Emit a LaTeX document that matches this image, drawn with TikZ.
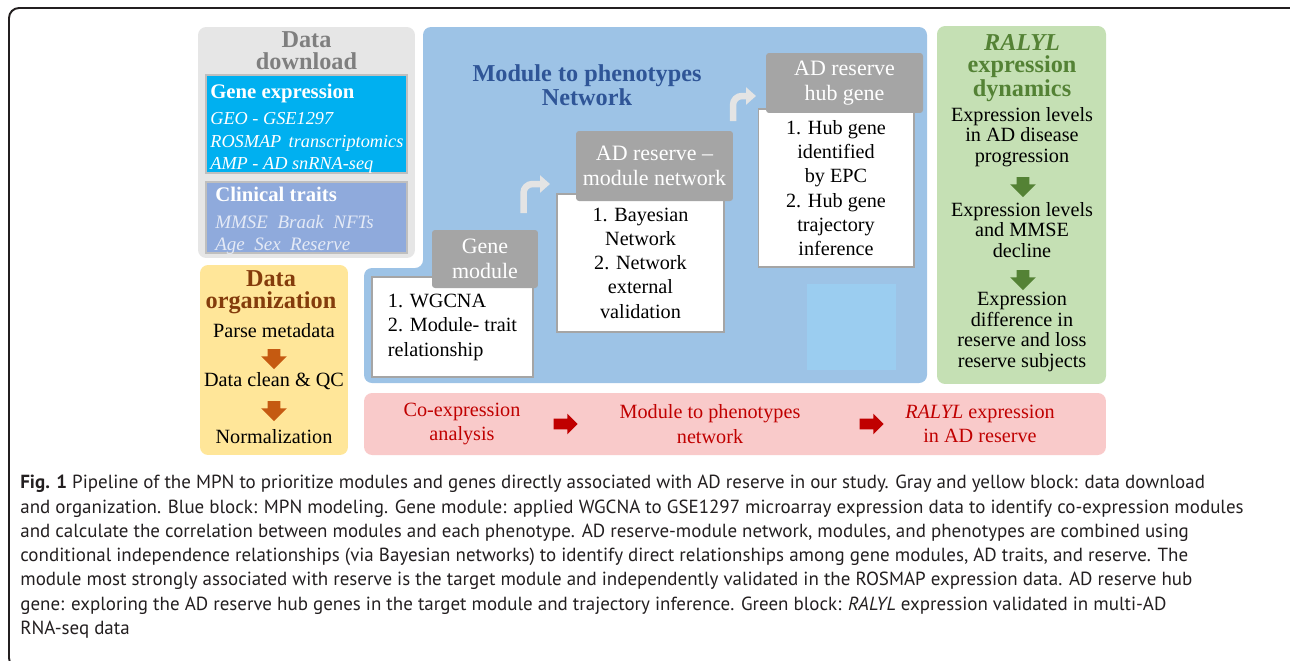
\documentclass[tikz,border=0pt]{standalone}
\usepackage{fontspec}
\setmainfont{Liberation Serif}
\newfontfamily\capfont{PT Sans}
\usetikzlibrary{shapes.arrows, arrows.meta}
\definecolor{dlgray}{HTML}{E6E6E6}
\definecolor{ttlgray}{HTML}{7F7F7F}
\definecolor{cyanbox}{HTML}{00B0F0}
\definecolor{clinbox}{HTML}{8FAADC}
\definecolor{clintxt}{HTML}{E4EAF6}
\definecolor{boxedge}{HTML}{BFBFBF}
\definecolor{orgyellow}{HTML}{FFE699}
\definecolor{orgbrown}{HTML}{843C0C}
\definecolor{orgarrow}{HTML}{C55A11}
\definecolor{mpnblue}{HTML}{9DC3E6}
\definecolor{mpntitle}{HTML}{2F5597}
\definecolor{headgray}{HTML}{A5A5A5}
\definecolor{sqblue}{HTML}{9BCDF0}
\definecolor{bentgray}{HTML}{E4E4E4}
\definecolor{ralgreen}{HTML}{C5E0B4}
\definecolor{raltitle}{HTML}{548235}
\definecolor{barpink}{HTML}{F9CACA}
\definecolor{barred}{HTML}{C00000}
\definecolor{captext}{HTML}{231F20}
\tikzset{x=0.02cm,y=-0.02cm,
  panel/.style={rounded corners=0.16cm, inner sep=0pt},
  ttl/.style={font=\fontsize{13.8}{12.4}\selectfont\bfseries, align=center, inner sep=0pt},
  txt/.style={font=\fontsize{11.5}{11.7}\selectfont, align=center, inner sep=0pt},
  stephead/.style={fill=headgray, rounded corners=0.06cm, text=white, font=\fontsize{12.5}{14.6}\selectfont, align=center, inner sep=0pt},
  stepbody/.style={fill=white, draw=headgray, line width=0.6pt, font=\fontsize{11.5}{13.8}\selectfont, align=center, inner sep=0pt},
  blockarrow/.style={single arrow, inner xsep=0pt, inner ysep=0.12cm, single arrow head extend=0.13cm, minimum height=0.4cm},
  bentarrow/.style={draw=bentgray, line width=0.13cm, rounded corners=0.18cm, -{Triangle[width=0.34cm,length=0.2cm]}}
}

\begin{document}
\begin{tikzpicture}
\useasboundingbox (0,0) rectangle (1290,660);
\draw[captext, line width=1.1pt, rounded corners=0.2cm] (9,8) rectangle (1300,668);

% data download
\node[panel, fill=dlgray, minimum width=4.34cm, minimum height=4.62cm] (dl) at (306.5,142.5) {};
\node[ttl, text=ttlgray] (dlttl) at (306.5,51) {Data\\download};
\node[fill=cyanbox, draw=boxedge, line width=1.1pt, minimum width=4.02cm, minimum height=1.96cm] (ge) at (306.5,124) {};
\node[txt, text=white, align=left, anchor=west, font=\fontsize{10.4}{12.8}\selectfont] (getxt) at (210,129)
  {\textbf{\fontsize{11.8}{12.8}\selectfont Gene expression}\\[2pt]\textit{GEO - GSE1297}\\\textit{ROSMAP\hspace{0.4em}transcriptomics}\\\textit{AMP - AD snRNA-seq}};
\node[fill=clinbox, draw=boxedge, line width=1.1pt, minimum width=4.02cm, minimum height=1.42cm] (ct) at (306.5,217.5) {};
\node[txt, text=white, align=left, anchor=west, font=\fontsize{10.8}{12.6}\selectfont] (cttxt) at (215,221)
  {\textbf{\fontsize{11.8}{12.6}\selectfont Clinical traits}\\[2.5pt]\textcolor{clintxt}{\textit{MMSE\hspace{0.5em}Braak\hspace{0.5em}NFTs}}\\\textcolor{clintxt}{\textit{Age\hspace{0.5em}Sex\hspace{0.5em}Reserve}}};

% data organization
\node[panel, fill=orgyellow, minimum width=2.96cm, minimum height=3.8cm] (org) at (274,360) {};
\node[ttl, text=orgbrown] (orgttl) at (271,292) {Data\\organization};
\node[txt] (org1) at (274,331) {Parse metadata};
\node[blockarrow, fill=orgarrow, rotate=-90] (orga1) at (274,356) {};
\node[txt] (org2) at (274,381) {Data clean \& QC};
\node[blockarrow, fill=orgarrow, rotate=-90] (orga2) at (274,408) {};
\node[txt] (org3) at (274,437) {Normalization};

% module to phenotypes network
\fill[mpnblue, rounded corners=0.16cm] (423,27) -- (927,27) -- (927,383) -- (364,383) -- (364,268) -- (423,268) -- cycle;
\node[ttl, text=mpntitle] (mpnttl) at (587,85) {Module to phenotypes\\Network};
\node[fill=sqblue, minimum width=1.78cm, minimum height=1.72cm] (sq) at (851.5,327) {};
\node[stepbody, minimum width=3.22cm, minimum height=2cm] (gmbody) at (452.5,327)
  {\begin{tabular}{@{}l@{}}1. WGCNA\\2. Module- trait\\relationship\end{tabular}};
\node[stephead, minimum width=2.12cm, minimum height=1.16cm] (gmhead) at (485,259) {Gene\\module};
\node[stepbody, minimum width=3.34cm, minimum height=2.76cm] (anbody) at (640.5,263)
  {1. Bayesian\\Network\\2. Network\\external\\validation};
\node[stephead, minimum width=3.14cm, minimum height=1.4cm] (anhead) at (654.5,166) {AD reserve --\\module network};
\node[stepbody, minimum width=3.12cm, minimum height=3.16cm] (hubbody) at (836,188)
  {1. Hub gene\\identified\\by EPC\\2. Hub gene\\trajectory\\inference};
\node[stephead, minimum width=3.14cm, minimum height=1.2cm] (hubhead) at (844.5,83) {AD reserve\\hub gene};
\coordinate (ba1s) at (523.5,213);
\coordinate (ba1e) at (550,184);
\coordinate (ba2s) at (733,121);
\coordinate (ba2e) at (756,96);
\draw[bentarrow] (ba1s) |- (ba1e);
\draw[bentarrow] (ba2s) |- (ba2e);

% RALYL expression dynamics
\node[panel, fill=ralgreen, minimum width=3.38cm, minimum height=7.16cm] (ral) at (1021.5,205) {};
\node[ttl, text=raltitle, font=\fontsize{13.8}{12.3}\selectfont\bfseries] (ralttl) at (1022,68) {\textit{RALYL}\\expression\\dynamics};
\node[txt] (ral1) at (1022,137) {Expression levels\\in AD disease\\progression};
\node[blockarrow, fill=raltitle, rotate=-90] (rala1) at (1023,184) {};
\node[txt] (ral2) at (1022,230) {Expression levels\\and MMSE\\decline};
\node[blockarrow, fill=raltitle, rotate=-90] (rala2) at (1023,277) {};
\node[txt] (ral3) at (1022,332) {Expression\\difference in\\reserve and loss\\reserve subjects};

% summary bar
\node[panel, fill=barpink, minimum width=14.84cm, minimum height=1.24cm] (bar) at (735,424) {};
\node[txt, text=barred, font=\fontsize{11.5}{14}\selectfont] (bar1) at (462,424) {Co-expression\\analysis};
\node[blockarrow, fill=barred, inner ysep=0.1cm, single arrow head extend=0.1cm, minimum height=0.48cm] (bara1) at (563,424) {};
\node[txt, text=barred, font=\fontsize{11.5}{14}\selectfont] (bar2) at (710,424) {Module to phenotypes\\network};
\node[blockarrow, fill=barred, inner ysep=0.1cm, single arrow head extend=0.1cm, minimum height=0.48cm] (bara2) at (869,424) {};
\node[txt, text=barred, font=\fontsize{11.5}{14}\selectfont] (bar3) at (980,424) {\textit{RALYL} expression\\in AD reserve};

% caption
\node[anchor=north west, inner sep=0pt, align=left, text=captext, font=\capfont\fontsize{10.8}{13.8}\selectfont] (cap) at (20,475)
  {\textbf{Fig. 1} Pipeline of the MPN to prioritize modules and genes directly associated with AD reserve in our study. Gray and yellow block: data download\\
   and organization. Blue block: MPN modeling. Gene module: applied WGCNA to GSE1297 microarray expression data to identify co-expression modules\\
   and calculate the correlation between modules and each phenotype. AD reserve-module network, modules, and phenotypes are combined using\\
   conditional independence relationships (via Bayesian networks) to identify direct relationships among gene modules, AD traits, and reserve. The\\
   module most strongly associated with reserve is the target module and independently validated in the ROSMAP expression data. AD reserve hub\\
   gene: exploring the AD reserve hub genes in the target module and trajectory inference. Green block: \textit{RALYL} expression validated in multi-AD\\
   RNA-seq data};
\end{tikzpicture}
\end{document}
